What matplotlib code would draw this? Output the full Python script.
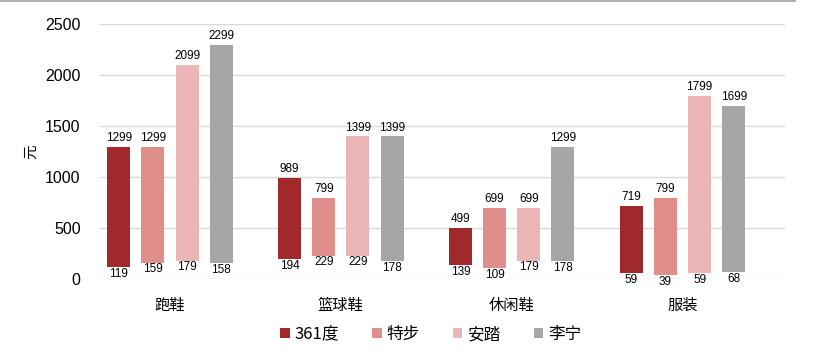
import numpy as np
import matplotlib
matplotlib.use("Agg")
import matplotlib.pyplot as plt
from matplotlib.lines import Line2D

plt.rcParams['font.family'] = ['Noto Sans CJK SC', 'DejaVu Sans']

# price ranges (yuan) per category, one list per brand
categories = ['跑鞋', '篮球鞋', '休闲鞋', '服装']
brands = ['361度', '特步', '安踏', '李宁']
low_361 = [119, 194, 139, 59]
high_361 = [1299, 989, 499, 719]
low_xtep = [159, 229, 109, 39]
high_xtep = [1299, 799, 699, 799]
low_anta = [179, 229, 179, 59]
high_anta = [2099, 1399, 699, 1799]
low_lining = [158, 178, 178, 68]
high_lining = [2299, 1399, 1299, 1699]
yticks = [0, 500, 1000, 1500, 2000, 2500]

lows = [low_361, low_xtep, low_anta, low_lining]
highs = [high_361, high_xtep, high_anta, high_lining]
colors = ['#A2292B', '#E08E8C', '#ECB6B6', '#A6A6A6']

fig = plt.figure(figsize=(8.4, 3.57), dpi=100)
ax = fig.add_axes([0.119, 0.2185, 0.8155, 0.714])

x = np.arange(len(categories))
step = 0.2
width = 0.135
for i in range(len(brands)):
    pos = x + (i - 1.5) * step
    lo = np.array(lows[i])
    hi = np.array(highs[i])
    ax.bar(pos, hi - lo, bottom=lo, width=width, color=colors[i], label=brands[i], zorder=3)
    for p, l, h in zip(pos, lo, hi):
        ax.annotate(str(h), (p, h), xytext=(0, 2), textcoords='offset points',
                    ha='center', va='bottom', fontsize=8.5, family='Liberation Sans')
        ax.annotate(str(l), (p, l), xytext=(0, -0.5), textcoords='offset points',
                    ha='center', va='top', fontsize=8.5, family='Liberation Sans')

ax.set_xlim(-0.41, 3.6)
ax.set_ylim(0, 2500)
ax.set_yticks(yticks)
ax.set_yticklabels([str(v) for v in yticks], fontsize=11.5, family='Liberation Sans')
ax.set_xticks(x)
ax.set_xticklabels(categories, fontsize=11)
ax.tick_params(axis='both', length=0)
ax.tick_params(axis='x', pad=13)
ax.tick_params(axis='y', pad=14)
ax.grid(axis='y', color='#D9D9D9', linewidth=1, zorder=0)
for s in ax.spines.values():
    s.set_visible(False)
ax.set_ylabel('元', fontsize=10.5, labelpad=5)

ax.legend(loc='center', bbox_to_anchor=(0.513, 0.063), bbox_transform=fig.transFigure,
          ncol=4, frameon=False, fontsize=12, handlelength=0.55, handleheight=0.55,
          handletextpad=0.3, columnspacing=2.0)

# thin gray rule along the top edge
fig.add_artist(Line2D([0, 0.947], [0.998, 0.998], color='#A0A0A0', linewidth=1.2,
                      transform=fig.transFigure))

fig.savefig('out.png', dpi=100)
